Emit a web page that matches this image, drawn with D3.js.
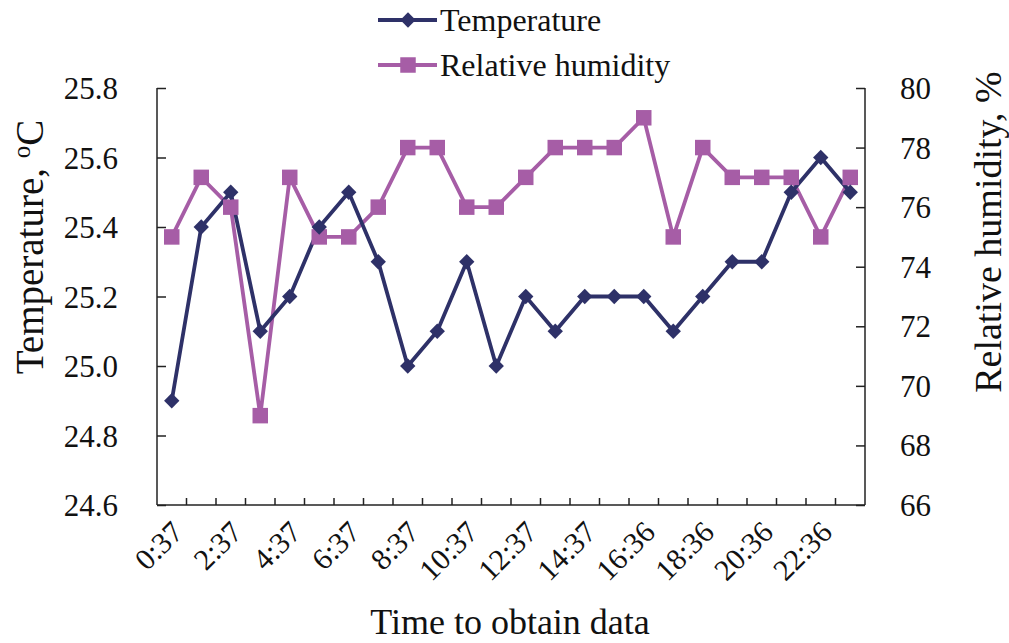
<!DOCTYPE html>
<html>
<head>
<meta charset="utf-8">
<script src="https://cdn.jsdelivr.net/npm/d3@7"></script>
<style>
  body { margin: 0; background: #fff; }
  svg text { font-family: "Liberation Serif", "Times New Roman", "DejaVu Serif", serif; fill: #111; }
</style>
</head>
<body>
<div id="container"></div>
<script>
// sampling times (hourly)
var times = ["0:37", "1:37", "2:37", "3:37", "4:37", "5:37", "6:37", "7:37",
    "8:37", "9:37", "10:37", "11:37", "12:37", "13:37", "14:37", "15:37",
    "16:36", "17:36", "18:36", "19:36", "20:36", "21:36", "22:36", "23:36"];

// temperature, deg C
var temperature = [24.9, 25.4, 25.5, 25.1, 25.2, 25.4, 25.5, 25.3, 25.0, 25.1, 25.3, 25.0,
    25.2, 25.1, 25.2, 25.2, 25.2, 25.1, 25.2, 25.3, 25.3, 25.5, 25.6, 25.5];

// relative humidity, %
var humidity = [75, 77, 76, 69, 77, 75, 75, 76, 78, 78, 76, 76,
    77, 78, 78, 78, 79, 75, 78, 77, 77, 77, 75, 77];

var tempTicks = [24.6, 24.8, 25.0, 25.2, 25.4, 25.6, 25.8];
var humTicks = [66, 68, 70, 72, 74, 76, 78, 80];

var tempColor = "#2e3168";
var humColor = "#a65da6";

var width = 1009, height = 643;
var margin = { top: 88, right: 144, bottom: 138, left: 157 };
var innerW = width - margin.left - margin.right;
var innerH = height - margin.top - margin.bottom;

var svg = d3.select("#container").append("svg")
    .attr("width", width)
    .attr("height", height)
    .attr("font-family", "Liberation Serif, serif");

var g = svg.append("g")
    .attr("transform", "translate(" + margin.left + "," + margin.top + ")");

var x = d3.scaleBand().domain(times).range([0, innerW]);
var yT = d3.scaleLinear().domain([24.6, 25.8]).range([innerH, 0]);
var yH = d3.scaleLinear().domain([66, 80]).range([innerH, 0]);

////////////// axes //////////////

// left axis, ticks pointing inward
var left = g.append("g")
    .call(d3.axisRight(yT).tickValues(tempTicks).tickSize(9).tickFormat(""));
left.select(".domain").remove();
left.selectAll("line").attr("stroke", "#222").attr("stroke-width", 1.5);
g.append("line").attr("x1", 0).attr("x2", 0).attr("y1", 0).attr("y2", innerH)
    .attr("stroke", "#222").attr("stroke-width", 1.5);
g.selectAll(".tlab").data(tempTicks).enter().append("text")
    .attr("class", "tlab")
    .attr("x", -39)
    .attr("y", function (d) { return yT(d) + 11; })
    .attr("text-anchor", "end")
    .style("font-size", "31px")
    .text(function (d) { return d.toFixed(1); });

// right axis
var right = g.append("g")
    .attr("transform", "translate(" + innerW + ",0)")
    .call(d3.axisLeft(yH).tickValues(humTicks).tickSize(9).tickFormat(""));
right.select(".domain").remove();
right.selectAll("line").attr("stroke", "#222").attr("stroke-width", 1.5);
g.append("line").attr("x1", innerW).attr("x2", innerW).attr("y1", 0).attr("y2", innerH)
    .attr("stroke", "#222").attr("stroke-width", 1.5);
g.selectAll(".hlab").data(humTicks).enter().append("text")
    .attr("class", "hlab")
    .attr("x", innerW + 35)
    .attr("y", function (d) { return yH(d) + 11; })
    .attr("text-anchor", "start")
    .style("font-size", "31px")
    .text(function (d) { return d; });

// bottom axis: tick marks on band boundaries
g.append("line").attr("x1", 0).attr("x2", innerW).attr("y1", innerH).attr("y2", innerH)
    .attr("stroke", "#222").attr("stroke-width", 1.5);
g.selectAll(".xtick").data(times.slice(1)).enter().append("line")
    .attr("class", "xtick")
    .attr("x1", function (d) { return x(d); })
    .attr("x2", function (d) { return x(d); })
    .attr("y1", innerH)
    .attr("y2", innerH - 7)
    .attr("stroke", "#222").attr("stroke-width", 1.5);

g.selectAll(".xlab").data(times.filter(function (d, i) { return i % 2 === 0; }))
    .enter().append("text")
    .attr("class", "xlab")
    .attr("text-anchor", "end")
    .style("font-size", "30px")
    .attr("transform", function (d) {
        return "translate(" + (x(d) + x.bandwidth() / 2 + 13) + "," + (innerH + 29) + ") rotate(-45)";
    })
    .text(function (d) { return d; });

////////////// axis titles //////////////

var lt = svg.append("text")
    .attr("transform", "translate(43,247) rotate(-90)")
    .attr("text-anchor", "middle")
    .style("font-size", "39px");
lt.append("tspan").text("Temperature, ");
lt.append("tspan").attr("dy", -13).style("font-size", "25px").text("o");
lt.append("tspan").attr("dy", 13).text("C");

svg.append("text")
    .attr("transform", "translate(1001,232) rotate(-90)")
    .attr("text-anchor", "middle")
    .style("font-size", "38px")
    .text("Relative humidity, %");

svg.append("text")
    .attr("x", 510)
    .attr("y", 634)
    .attr("text-anchor", "middle")
    .style("font-size", "36px")
    .text("Time to obtain data");

////////////// series //////////////

var cx = function (d, i) { return x(times[i]) + x.bandwidth() / 2; };

var lineT = d3.line().x(cx).y(function (d) { return yT(d); });
var lineH = d3.line().x(cx).y(function (d) { return yH(d); });

g.append("path").datum(humidity)
    .attr("d", lineH)
    .attr("fill", "none")
    .attr("stroke", humColor)
    .attr("stroke-width", 3.8);

g.append("path").datum(temperature)
    .attr("d", lineT)
    .attr("fill", "none")
    .attr("stroke", tempColor)
    .attr("stroke-width", 3.8);

var diamond = d3.symbol().type(d3.symbolDiamond2).size(150);
var square = d3.symbol().type(d3.symbolSquare).size(240);

g.selectAll(".hpt").data(humidity).enter().append("path")
    .attr("class", "hpt")
    .attr("d", square)
    .attr("transform", function (d, i) { return "translate(" + cx(d, i) + "," + yH(d) + ")"; })
    .attr("fill", humColor);

g.selectAll(".tpt").data(temperature).enter().append("path")
    .attr("class", "tpt")
    .attr("d", diamond)
    .attr("transform", function (d, i) { return "translate(" + cx(d, i) + "," + yT(d) + ")"; })
    .attr("fill", tempColor);

////////////// legend //////////////

var legend = svg.append("g").attr("transform", "translate(378,0)");
var items = [
    { name: "Temperature", color: tempColor, sym: diamond, y: 20 },
    { name: "Relative humidity", color: humColor, sym: square, y: 65 }
];
items.forEach(function (it) {
    legend.append("line")
        .attr("x1", 0).attr("x2", 59)
        .attr("y1", it.y).attr("y2", it.y)
        .attr("stroke", it.color).attr("stroke-width", 3.8);
    legend.append("path")
        .attr("d", it.sym)
        .attr("transform", "translate(30," + it.y + ")")
        .attr("fill", it.color);
    legend.append("text")
        .attr("x", 62)
        .attr("y", it.y + 11)
        .style("font-size", "32px")
        .text(it.name);
});
</script>
</body>
</html>
